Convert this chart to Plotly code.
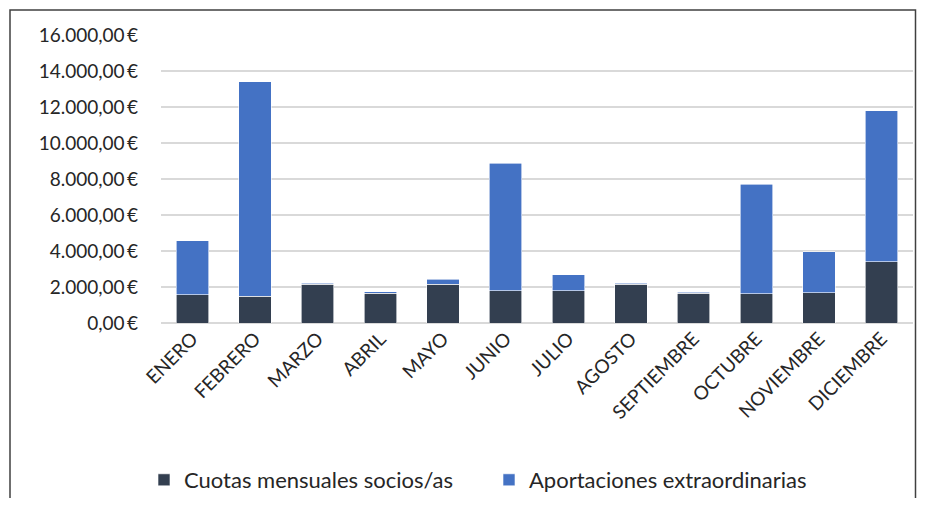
import plotly.graph_objects as go

meses = ["ENERO", "FEBRERO", "MARZO", "ABRIL", "MAYO", "JUNIO", "JULIO",
         "AGOSTO", "SEPTIEMBRE", "OCTUBRE", "NOVIEMBRE", "DICIEMBRE"]
cuotas = [1580, 1500, 2150, 1650, 2150, 1800, 1800, 2150, 1650, 1630, 1690, 3415]
totales = [4560, 13400, 2210, 1745, 2430, 8880, 2670, 2210, 1710, 7700, 3950, 11790]
aportaciones = [t - c for t, c in zip(totales, cuotas)]
y_ticks = [0, 2000, 4000, 6000, 8000, 10000, 12000, 14000, 16000]


def eur(v):
    s = f"{v:,.2f}".replace(",", "X").replace(".", ",").replace("X", ".")
    return s + "\u2009€"


y_text = [eur(v) for v in y_ticks]

OFF = 8  # body margin of the html page
W, H = 925 - OFF, 506 - 2 * OFF
L, R, T, B = 161 - OFF, 913 - OFF, 35 - OFF, 323 - OFF

fig = go.Figure()
fig.add_trace(go.Bar(x=meses, y=cuotas, name="Cuotas mensuales socios/as",
                     marker=dict(color="#333F50", line=dict(color="#ffffff", width=0.6))))
fig.add_trace(go.Bar(x=meses, y=aportaciones, name="Aportaciones extraordinarias",
                     marker=dict(color="#4472C4", line=dict(color="#ffffff", width=0.6))))

pw, ph = R - L, B - T
def px_x(p): return (p - OFF - L) / pw
def px_y(p): return (B - (p - OFF)) / ph

fig.update_layout(
    barmode="stack",
    bargap=0.48,
    width=W, height=H,
    margin=dict(l=L, r=W - R, t=T, b=H - B, pad=0, autoexpand=False),
    paper_bgcolor="white", plot_bgcolor="white",
    font=dict(family="Lato, Noto Sans, sans-serif", size=19, color="#262626"),
    showlegend=True,
    legend=dict(orientation="h", x=px_x(144), y=px_y(480), xanchor="left", yanchor="middle",
                font=dict(size=22, color="#262626"), traceorder="normal",
                entrywidth=300, entrywidthmode="pixels"),
    xaxis=dict(tickangle=-45, showgrid=False, showline=False, ticks="",
               tickfont=dict(size=19)),
    yaxis=dict(range=[0, 16000], tickvals=y_ticks, ticktext=y_text,
               showgrid=True, gridcolor="#d9d9d9", gridwidth=1.5, zeroline=True,
               zerolinecolor="#d9d9d9", zerolinewidth=1.5, showline=False, ticks="",
               tickfont=dict(size=19), ticklabelstandoff=22),
    shapes=[dict(type="rect", xref="paper", yref="paper",
                 x0=px_x(10), x1=px_x(915.5), y0=px_y(520), y1=px_y(10),
                 line=dict(color="#404040", width=1.5), fillcolor="rgba(0,0,0,0)", layer="above")],
)
fig.write_html("out.html")
